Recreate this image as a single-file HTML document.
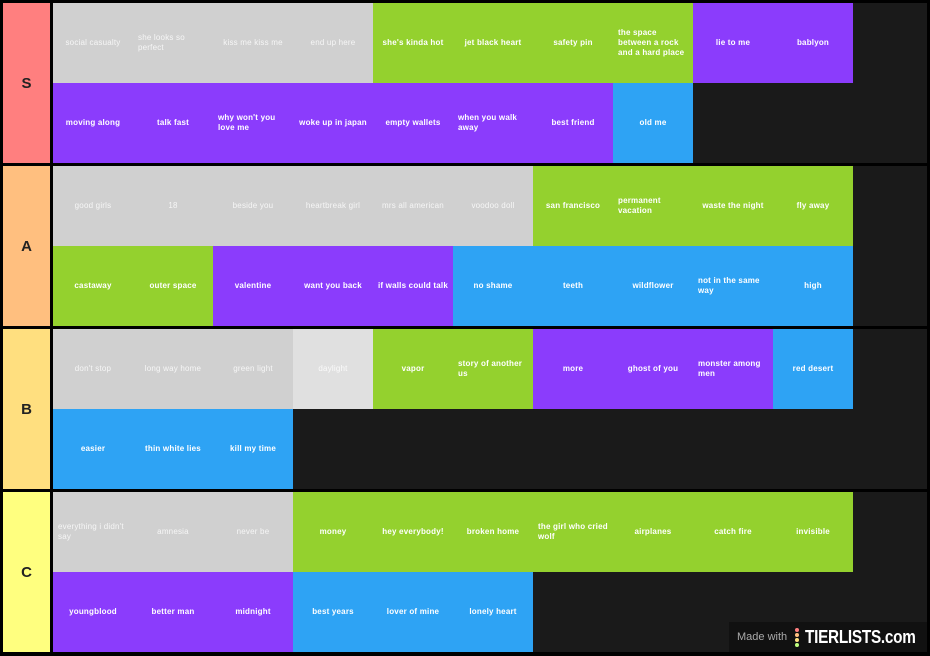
<!DOCTYPE html>
<html><head><meta charset="utf-8"><style>
*{margin:0;padding:0;box-sizing:border-box}
body{width:930px;height:656px;background:#000;position:relative;overflow:hidden;font-family:"Liberation Sans",sans-serif}
.tier{position:absolute;left:0;width:930px;height:160px}
.lab{position:absolute;left:3px;top:0;width:47px;height:160px;display:flex;align-items:center;justify-content:center;font-size:15px;font-weight:bold;color:#222}
.cells{position:absolute;left:53px;top:0;width:874px;height:160px;background:#1a1a1a;display:flex;flex-wrap:wrap;align-content:flex-start;padding-right:74px}
.c{width:80px;height:80px;display:flex;align-items:center;justify-content:center;color:#fff;font-size:8px;font-weight:bold;line-height:10px;letter-spacing:0.2px}
.c div{max-width:70px;text-align:left}
.g{background:#d0d0d0;color:#f6f6f6;font-weight:normal}
.l{background:#e0e0e0;color:#fafafa;font-weight:normal}
.gr{background:#94d12e}
.p{background:#8b3cfc}
.b{background:#2ea3f4}
.wm{position:absolute;left:729px;top:622px;width:198px;height:30px;background:#111;display:flex;align-items:center;padding-left:8px;color:#aaa;font-size:11px;white-space:nowrap}
.wm b{color:#fff;font-size:18px;font-weight:bold;margin-left:6px;letter-spacing:-0.3px;display:inline-block;transform:scaleX(0.85);transform-origin:left center}
</style></head><body>

<div class="tier" style="top:3px"><div class="lab" style="background:#ff7f7f">S</div><div class="cells">
<div class="c g"><div>social casualty</div></div><div class="c g"><div>she looks so perfect</div></div><div class="c g"><div>kiss me kiss me</div></div><div class="c g"><div>end up here</div></div>
<div class="c gr"><div>she's kinda hot</div></div><div class="c gr"><div>jet black heart</div></div><div class="c gr"><div>safety pin</div></div><div class="c gr"><div>the space between a rock and a hard place</div></div>
<div class="c p"><div>lie to me</div></div><div class="c p"><div>bablyon</div></div>
<div class="c p"><div>moving along</div></div><div class="c p"><div>talk fast</div></div><div class="c p"><div>why won't you love me</div></div><div class="c p"><div style="max-width:76px">woke up in japan</div></div><div class="c p"><div>empty wallets</div></div><div class="c p"><div>when you walk away</div></div><div class="c p"><div>best friend</div></div>
<div class="c b"><div>old me</div></div>
</div></div>

<div class="tier" style="top:166px"><div class="lab" style="background:#ffbf7f">A</div><div class="cells">
<div class="c g"><div>good girls</div></div><div class="c g"><div>18</div></div><div class="c g"><div>beside you</div></div><div class="c g"><div>heartbreak girl</div></div><div class="c g"><div style="max-width:76px">mrs all american</div></div><div class="c g"><div>voodoo doll</div></div>
<div class="c gr"><div>san francisco</div></div><div class="c gr"><div>permanent vacation</div></div><div class="c gr"><div>waste the night</div></div><div class="c gr"><div>fly away</div></div>
<div class="c gr"><div>castaway</div></div><div class="c gr"><div>outer space</div></div>
<div class="c p"><div>valentine</div></div><div class="c p"><div>want you back</div></div><div class="c p"><div style="max-width:78px">if walls could talk</div></div>
<div class="c b"><div>no shame</div></div><div class="c b"><div>teeth</div></div><div class="c b"><div>wildflower</div></div><div class="c b"><div>not in the same way</div></div><div class="c b"><div>high</div></div>
</div></div>

<div class="tier" style="top:329px"><div class="lab" style="background:#ffdf7f">B</div><div class="cells">
<div class="c g"><div>don't stop</div></div><div class="c g"><div>long way home</div></div><div class="c g"><div>green light</div></div><div class="c l"><div>daylight</div></div>
<div class="c gr"><div>vapor</div></div><div class="c gr"><div>story of another us</div></div>
<div class="c p"><div>more</div></div><div class="c p"><div>ghost of you</div></div><div class="c p"><div>monster among men</div></div>
<div class="c b"><div>red desert</div></div>
<div class="c b"><div>easier</div></div><div class="c b"><div>thin white lies</div></div><div class="c b"><div>kill my time</div></div>
</div></div>

<div class="tier" style="top:492px"><div class="lab" style="background:#ffff7f">C</div><div class="cells">
<div class="c g"><div>everything i didn't say</div></div><div class="c g"><div>amnesia</div></div><div class="c g"><div>never be</div></div>
<div class="c gr"><div>money</div></div><div class="c gr"><div>hey everybody!</div></div><div class="c gr"><div>broken home</div></div><div class="c gr"><div>the girl who cried wolf</div></div><div class="c gr"><div>airplanes</div></div><div class="c gr"><div>catch fire</div></div><div class="c gr"><div>invisible</div></div>
<div class="c p"><div>youngblood</div></div><div class="c p"><div>better man</div></div><div class="c p"><div>midnight</div></div>
<div class="c b"><div>best years</div></div><div class="c b"><div>lover of mine</div></div><div class="c b"><div>lonely heart</div></div>
</div></div>

<div class="wm">Made with <span style="display:inline-flex;flex-direction:column;margin-left:8px;gap:1px"><i style="width:4px;height:4px;border-radius:2px;background:#ff7f7f"></i><i style="width:4px;height:4px;border-radius:2px;background:#ffbf7f"></i><i style="width:4px;height:4px;border-radius:2px;background:#ffdf7f"></i><i style="width:4px;height:4px;border-radius:2px;background:#bfff7f"></i></span><b>TIERLISTS.com</b></div>
</body></html>
